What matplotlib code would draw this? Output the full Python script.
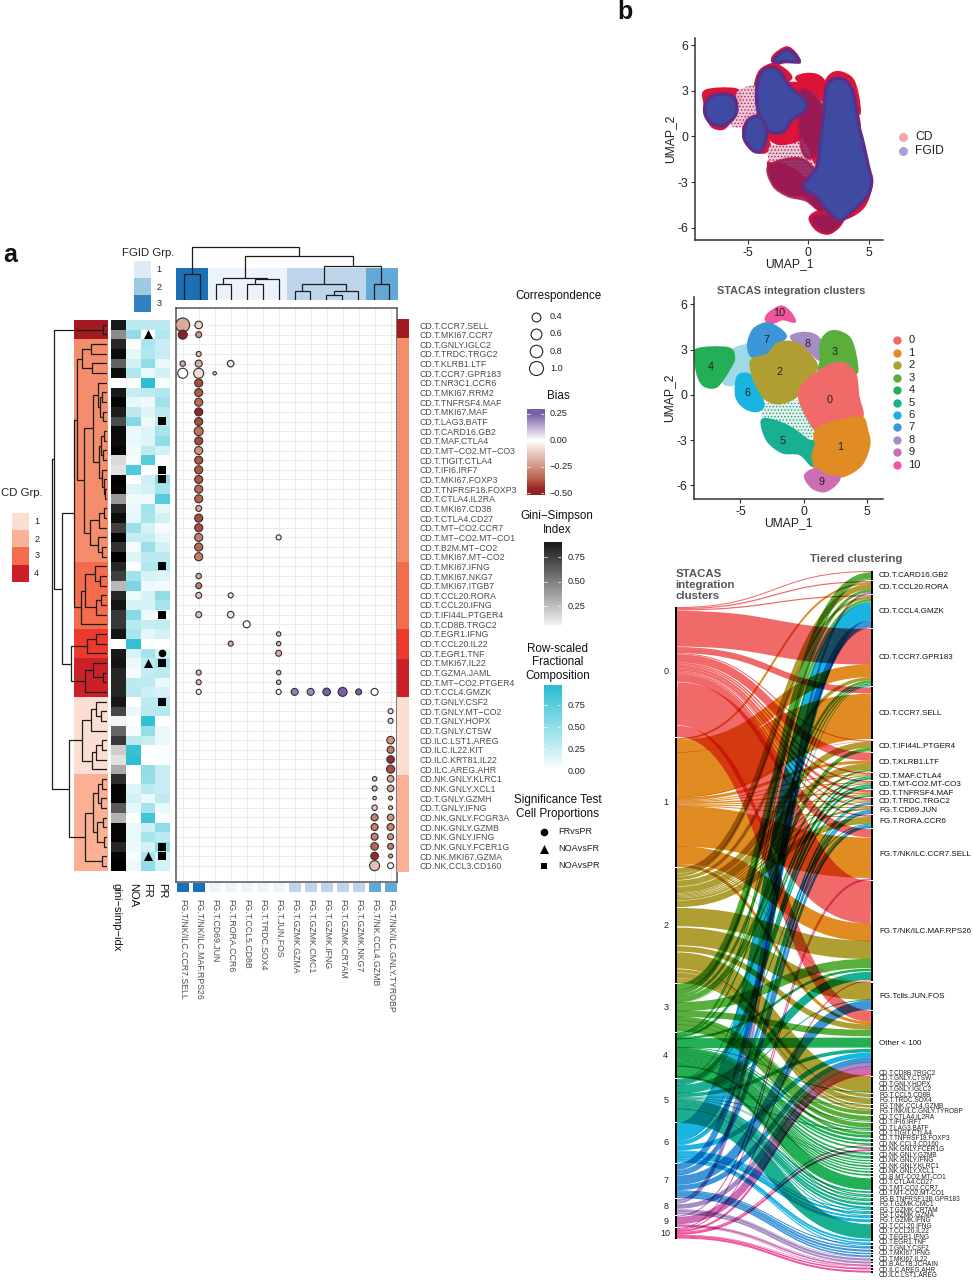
import numpy as np
import matplotlib
matplotlib.use('Agg')
import matplotlib.pyplot as plt
from matplotlib.colors import LinearSegmentedColormap, ListedColormap, to_rgb
from matplotlib.path import Path
from matplotlib.patches import PathPatch

plt.rcParams['font.family'] = ['Liberation Sans', 'DejaVu Sans']
plt.rcParams['axes.unicode_minus'] = False
plt.rcParams['hatch.linewidth'] = 0.6

# ---------- panel a data ----------
row_labels = ["CD.T.CCR7.SELL","CD.T.MKI67.CCR7","CD.T.GNLY.IGLC2","CD.T.TRDC.TRGC2","CD.T.KLRB1.LTF","CD.T.CCR7.GPR183",
 "CD.T.NR3C1.CCR6","CD.T.MKI67.RRM2","CD.T.TNFRSF4.MAF","CD.T.MKI67.MAF","CD.T.LAG3.BATF","CD.T.CARD16.GB2","CD.T.MAF.CTLA4",
 "CD.T.MT−CO2.MT−CO3","CD.T.TIGIT.CTLA4","CD.T.IFI6.IRF7","CD.T.MKI67.FOXP3","CD.T.TNFRSF18.FOXP3","CD.T.CTLA4.IL2RA",
 "CD.T.MKI67.CD38","CD.T.CTLA4.CD27","CD.T.MT−CO2.CCR7","CD.T.MT−CO2.MT−CO1","CD.T.B2M.MT−CO2","CD.T.MKI67.MT−CO2",
 "CD.T.MKI67.IFNG","CD.T.MKI67.NKG7","CD.T.MKI67.ITGB7","CD.T.CCL20.RORA","CD.T.CCL20.IFNG","CD.T.IFI44L.PTGER4","CD.T.CD8B.TRGC2",
 "CD.T.EGR1.IFNG","CD.T.CCL20.IL22","CD.T.EGR1.TNF","CD.T.MKI67.IL22","CD.T.GZMA.JAML","CD.T.MT−CO2.PTGER4","CD.T.CCL4.GMZK",
 "CD.T.GNLY.CSF2","CD.T.GNLY.MT−CO2","CD.T.GNLY.HOPX","CD.T.GNLY.CTSW","CD.ILC.LST1.AREG","CD.ILC.IL22.KIT","CD.ILC.KRT81.IL22",
 "CD.ILC.AREG.AHR","CD.NK.GNLY.KLRC1","CD.NK.GNLY.XCL1","CD.T.GNLY.GZMH","CD.T.GNLY.IFNG","CD.NK.GNLY.FCGR3A","CD.NK.GNLY.GZMB",
 "CD.NK.GNLY.IFNG","CD.NK.GNLY.FCER1G","CD.NK.MKI67.GZMA","CD.NK.CCL3.CD160"]
col_labels = ["FG.T/NK/ILC.CCR7.SELL","FG.T/NK/ILC.MAF.RPS26","FG.T.CD69.JUN","FG.T.RORA.CCR6","FG.T.CCL5.CD8B","FG.T.TRDC.SOX4",
 "FG.T.JUN.FOS","FG.T.GZMK.GZMA","FG.T.GZMK.CMC1","FG.T.GZMK.IFNG","FG.T.GZMK.CRTAM","FG.T.GZMK.NKG7","FG.T/NK.CCL4.GZMB","FG.T/NK/ILC.GNLY.TYROBP"]
col_group = [3,3,1,1,1,1,1,2,2,2,2,2,4,4]
row_group = [5,5]+[2]*23+[3]*7+[4]*3+[6]*4+[0]*8+[1]*10

dot_row = [1,2,5,6, 1,2,4,5,6,7,8,9,10,11,12,13,14,15,16,17,18,19,20,21,22,23,24,25,27,28,29,31,37,38,39,
           6, 5,29,31,34, 32, 23,33,34,35,37,38,39, 39,39,39,39,39,39,
           48,49,50,51,52,53,54,55,56,57, 41,42,44,45,46,47,48,49,50,51,52,53,54,55,56,57]
dot_col = [1,1,1,1, 2,2,2,2,2,2,2,2,2,2,2,2,2,2,2,2,2,2,2,2,2,2,2,2,2,2,2,2,2,2,2,
           3, 4,4,4,4, 5, 7,7,7,7,7,7,7, 8,9,10,11,12,13,
           13,13,13,13,13,13,13,13,13,13, 14,14,14,14,14,14,14,14,14,14,14,14,14,14,14,14]
dot_corr = [1,.41,.15,.51, .29,.18,.13,.25,.51,.33,.33,.33,.33,.33,.41,.33,.33,.33,.33,.33,.33,.33,.18,.33,.33,.33,.33,.33,.15,.18,.18,.18,.13,.13,.13,
            .06, .22,.13,.22,.13, .25, .13,.1,.1,.18,.1,.1,.13, .25,.25,.29,.41,.18,.25,
            .1,.13,.06,.15,.25,.25,.25,.29,.29,.51, .13,.13,.29,.25,.29,.33,.22,.22,.08,.08,.22,.25,.18,.18,.08,.18]
dot_bias = [-.2,-.5,-.2,0, -.1,-.25,-.15,-.2,-.08,-.4,-.38,-.35,-.48,-.4,-.33,-.4,-.25,-.38,-.38,-.38,-.35,-.36,-.2,-.4,-.4,-.3,-.35,-.3,-.2,-.3,-.15,-.15,-.15,-.15,-.03,
            -.1, -.08,-.08,-.08,-.2, 0, -.05,-.12,-.15,-.2,-.15,-.15,-.02, .2,.18,.25,.25,.25,0,
            -.12,-.15,-.1,-.12,-.3,-.3,-.3,-.35,-.45,-.15, -.1,-.1,-.25,-.3,-.45,-.4,-.2,-.2,-.15,-.15,-.25,-.3,-.25,-.3,-.2,0]

gini = [.9,.45,.85,.95,.62,.95,0,.9,.98,.88,.7,.95,.95,.98,.15,.12,.99,.98,.4,.85,.95,.75,.98,.8,1,.85,.75,.28,.85,.92,.78,.78,.92,0,.9,.92,.85,.85,.85,.9,.72,.05,.6,.78,.2,.12,.33,.82,.98,.98,.65,.3,.98,.98,.85,.98,1]
noa = [.3,.5,0,.12,.2,.35,0,.25,.12,.3,.55,.1,.1,.07,.05,.78,0,.15,.07,.1,.12,.45,.25,.05,.15,0,.42,.6,.08,.18,.55,.32,.38,.92,.18,.1,.04,.3,.32,0,.1,0,.04,.3,.9,.95,0,0,.15,.2,.12,0,.1,.1,.08,.03,.08]
fr = [.3,0,.38,.35,.5,.1,.95,.3,.08,.15,.08,.15,.15,.3,.75,.03,.22,.2,.07,.42,.38,.18,.25,.45,.3,.35,.18,.08,.18,.18,.08,.25,.12,0,.4,.3,.28,.3,.22,.3,.3,.92,.48,.25,0,0,.5,.48,.3,.1,.4,.85,.22,.4,.2,.4,.5]
pr = [.3,.35,.25,.25,.1,.2,.03,.35,.42,.3,.3,.4,.5,.2,.02,.05,.5,.4,.75,.12,.2,.04,.12,.2,.3,.35,.15,.06,.5,.4,.02,.28,.2,0,.2,.4,.3,.1,.18,.3,.33,0,.1,.1,.02,.03,.25,.25,.25,.3,.1,.03,.5,.3,.5,.2,.2]
sq_rows = [11,16,17,26,31,36,40,55,56]
tri_rows = [2,36,56]
circ_rows = [35]

left_tree = (55,
  (53,(4.3,1,2),
   (45,
    (33.7,
     (30,(25,(16.7,3,4),(15.7,5,6)),
      (23,(14,(9,7,(7,(5,8,9),(4,10,11))),(8,(6,(3,12,13),(4,14,15)),(5,16,(3,17,(2,18,19))))),
          (17,(8,(3,20,21),22),(9,23,(5,24,25))))),
     (26,(22,(12,26,(7,27,28)),(11,(6,29,30),31)),32)),
    (36,(20,(11,33,34),35),(22,(14,36,(4,37,38)),39)))),
  (38,
   (25.7,(16,(11,40,(6,41,42)),43),(15.7,(11,(5,44,45),46),47)),
   (22,(14,(9,(5,48,49),(6,50,51)),(10,(4,52,53),(3,54,55))),(5.3,56,57))))
top_tree = (53.3,(25.7,1,2),
  (44,(22.3,(15.7,3,4),(20.7,(15.7,5,6),7)),
      (34,(15.7,(9.3,8,9),(9.3,(5,10,11),12)),(15.7,13,14))))

cd_colors = ['#fcdfd2','#fbb196','#f56c4e','#cb2027']
cd_group_colors = ['#fcdfd2','#fbb096','#f38d6c','#f46b4d','#ee3a2c','#a31a20','#cb2027']
fg_colors = ['#deebf7','#9ecae1','#3182bd']
fg_col_colors = {1:'#edf3fa',2:'#bcd5ea',3:'#1b6fb5',4:'#63a9d8'}

corr_levels = [.4,.6,.8,1.0]
bias_ticks = [.25,0,-.25,-.5]
bias_tick_labels = ['0.25','0.00','−0.25','−0.50']

# ---------- panel b data ----------
cluster_colors = ['#f06a6a','#e18c23','#af9f32','#5aaf3c','#23af55','#19af91','#19b4e1','#3c96d7','#a58cc3','#cd6eb4','#f0559f']
cluster_names = [str(i) for i in range(11)]
cluster_sizes = [130,129,115,47.5,45.5,43,39.5,34.5,15.5,11.5,10.5]

poly_clusters = {
 10:[(-3.0,4.97),(-2.75,5.4),(-1.8,5.85),(-1.1,5.5),(-.7,4.85),(-1.65,5.0),(-2.5,4.75)],
 7:[(-4.25,3.87),(-3.85,4.42),(-2.9,4.75),(-1.95,4.4),(-1.4,3.87),(-1.95,3.43),(-2.9,2.66),(-4.1,2.55),(-4.4,3.2)],
 8:[(-1,3.87),(-.16,4.1),(.8,4),(1.35,3.5),(1.35,2.3),(.4,2.9),(-.57,3.43)],
 3:[(1.35,3.43),(1.9,4.1),(2.7,4.2),(3.65,3.75),(4.1,2.65),(4.2,1.45),(3.25,2),(2.15,2),(1.2,1.56),(1.35,2.3)],
 4:[(-8.47,3),(-6,3.1),(-5.5,2.45),(-5.9,1.67),(-6.85,.57),(-7.8,.57),(-8.3,1.12),(-8.55,2.1)],
 6:[(-5.2,1.23),(-4.25,1.34),(-3.7,.57),(-3.16,-.64),(-3.7,-1.08),(-4.66,-.86),(-5.34,-.09)],
 2:[(-4.1,2.33),(-2.9,2.66),(-1.95,3.43),(-.57,3.43),(.5,2.66),(1.06,1.89),(.5,1.12),(-.3,.35),(-.7,-.2),(-1.93,-.57),(-3,-.3),(-3.7,.57),(-4.1,1.45)],
 0:[(1.2,1.56),(2.15,2),(3.25,2.07),(4.1,1.34),(4.33,-.09),(4.6,-1.52),(2.7,-1.74),(1.06,-2.29),(.38,-1.63),(-.3,-.42),(-.3,.35),(.5,1.12)],
 1:[(1.06,-2.29),(2.7,-1.74),(4.6,-1.52),(5.0,-2.29),(5.2,-3.27),(4.6,-4.6),(3.24,-5.36),(1.88,-5.36),(.93,-4.92),(.52,-4.04),(.8,-3.16)],
 5:[(-3.24,-1.63),(-2.2,-1.74),(-1,-2.18),(.25,-2.95),(.8,-3.16),(.52,-4.04),(.65,-4.7),(-.3,-3.93),(-1.66,-3.82),(-2.75,-3.16),(-3.24,-2.29)],
 9:[(.1,-5.36),(.93,-4.92),(1.88,-5.36),(2.83,-5.47),(2.43,-6.02),(1.6,-6.4),(.65,-6.13)],
}
poly_link = [(-5.9,2.9),(-4.3,3.3),(-3.8,1.8),(-4.6,1.3),(-5.6,.6),(-6.4,.8),(-5.8,1.9)]
poly_gap = [(-3.16,-.64),(-1.93,-.57),(-.3,-.42),(.38,-1.63),(1.06,-2.29),(.25,-2.95),(-1,-2.18),(-2.2,-1.74),(-3.24,-1.63)]
label_xy = {0:(2.07,-.35),1:(2.86,-3.47),2:(-1.93,1.52),3:(2.43,2.86),4:(-7.33,1.85),5:(-1.63,-3.05),6:(-4.47,.13),7:(-2.94,3.65),8:(.35,3.36),9:(1.44,-5.76),10:(-1.93,5.4)}

poly_blue = [
 [(1.51,3.26),(2.34,3.81),(3.3,3.48),(3.85,2.39),(4.12,.85),(4.53,-.46),(4.95,-1.99),(5.22,-2.98),(4.81,-3.96),(3.43,-5.06),(2.61,-5.5),(1.51,-4.84),(.69,-3.96),(-.41,-3.31),(.69,-1.99),(.96,-.46),(1.24,1.29)],
 [(-4.12,3.81),(-3.43,4.47),(-2.47,4.36),(-1.51,3.26),(-.27,2.39),(-.27,1.73),(-1.37,1.07),(-2.06,.31),(-3.16,.31),(-3.98,1.29),(-4.26,2.39)],
 [(-2.88,4.91),(-2.34,5.45),(-1.65,5.67),(-.96,5.23),(-.82,4.91),(-1.79,4.91)],
 [(-4.95,1.07),(-3.98,1.29),(-3.43,.2),(-3.85,-.9),(-4.53,-.94),(-5.22,-.24),(-5.3,.31)],
 [(-8.38,2.3),(-7.55,2.75),(-6.18,2.6),(-5.95,1.51),(-6.9,.75),(-7.97,.85),(-8.52,1.51)],
]
poly_maroon = [
 [(-3.2,-1.9),(-.5,-1.5),(1.0,-3),(1.2,-4.9),(-.2,-4.2),(-1.7,-3.9),(-2.9,-3.2)],
 [(.3,-5.3),(1.9,-5.2),(2.7,-5.6),(1.7,-6.3),(.7,-6.0)],
 [(-.6,3.0),(1.2,2.0),(1.3,.4),(.3,-1.4),(-.6,-.6)],
]

tier_names = ["CD.T.CARD16.GB2","CD.T.CCL20.RORA","CD.T.CCL4.GMZK","CD.T.CCR7.GPR183","CD.T.CCR7.SELL","CD.T.IFI44L.PTGER4","CD.T.KLRB1.LTF",
 "CD.T.MAF.CTLA4","CD.T.MT-CO2.MT-CO3","CD.T.TNFRSF4.MAF","CD.T.TRDC.TRGC2","FG.T.CD69.JUN","FG.T.RORA.CCR6","FG.T/NK/ILC.CCR7.SELL",
 "FG.T/NK/ILC.MAF.RPS26","FG.Tclls.JUN.FOS","Other < 100"]
tier_small = ["CD.T.CD8B.TRGC2","CD.T.GNLY.CTSW","CD.T.GNLY.HOPX","CD.T.GNLY.IGLC2","FG.T.CCL5.CD8B","FG.T.TRDC.SOX4","FG.T/NK.CCL4.GZMB",
 "FG.T/NK/ILC.GNLY.TYROBP","CD.T.CTLA4.IL2RA","CD.T.IFI6.IRF7","CD.T.LAG3.BATF","CD.T.TIGIT.CTLA4","CD.T.TNFRSF18.FOXP3","CD.NK.CCL3.CD160",
 "CD.NK.GNLY.FCER1G","CD.NK.GNLY.GZMB","CD.NK.GNLY.IFNG","CD.NK.GNLY.KLRC1","CD.NK.GNLY.XCL1","CD.B.MT-CO2.MT-CO1","CD.T.CTLA4.CD27",
 "CD.T.MT-CO2.CCR7","CD.T.MT-CO2.MT-CO1","FG.B.TNFRSF13B.GPR183","FG.T.GZMK.CMC1","FG.T.GZMK.CRTAM","FG.T.GZMK.GZMA","FG.T.GZMK.IFNG",
 "CD.T.CCL20.IFNG","CD.T.CCL20.IL22","CD.T.EGR1.IFNG","CD.T.EGR1.TNF","CD.T.GNLY.CSF2","CD.T.MKI67.IFNG","CD.T.MKI67.IL22","CD.B.ACTB.JCHAIN",
 "CD.ILC.AREG.AHR","CD.ILC.LST1.AREG"]
tier_flows = [
 {0:1,3:7,4:1},{0:1.2,1:2,2:5,3:3,8:1.8},{0:1.2,2:2.5,3:2.5,4:1,6:18,7:6,8:1.8},{0:35,1:13,2:3,3:3,4:1.5,5:1,6:.5},{0:6,1:46},
 {0:1,1:.5,2:5.5,3:4},{0:8,1:3,2:6,3:2},{0:1.5,1:1,2:1,4:1.5,5:2},{0:1.5,1:1,2:1,4:2,5:2.5},{0:2.5,1:1.5,2:1,3:.5,5:1.5},
 {0:2.5,1:1,2:1,6:1.5,7:1},{0:1,1:1,2:2,6:2,7:2},{0:1.5,1:1,2:6,5:1,6:1,7:2.5},{0:8,1:41,9:1,10:1},
 {0:42,1:18,2:17,3:10,4:3,5:9,10:1},{1:.5,2:16.5,5:1,7:9},{0:11,1:3,2:5,3:7,4:12,5:4,6:5,7:5,8:4,9:7,10:2},
 {2:15,4:1},{2:3,5:.5},{2:5,5:.5},{2:2,3:.5},{2:2,3:4},{3:5,4:1},{3:5,4:2,5:1},{3:3,4:3},{4:3},{4:2,10:1},{4:2,10:2},{4:2,5:.5},{4:2.5,5:.5},
 {4:1.5},{4:1.5},{4:2},{4:1.5},{4:2},{4:2},{4:14,5:2},{4:1.5,5:1.5},{4:1,5:2},{4:.5,5:2.5},{5:2.5,6:1},{5:1,6:2},{5:1,6:2},{6:3},{5:16,6:2},
 {6:1.5,7:1},{6:1,7:1.5},{7:2},{7:1.5},{7:1.5,8:.5},{8:2},{8:1.5,9:.3},{9:1.5,10:.5},{9:.5,10:1.5},{10:2},
]

# ---------- helpers ----------
W, H = 973, 1280
fig = plt.figure(figsize=(W/100, H/100), dpi=100, facecolor='white')

def axpx(x0, y0, x1, y1, **kw):
    return fig.add_axes([x0/W, 1-y1/H, (x1-x0)/W, (y1-y0)/H], **kw)

bg = axpx(0, 0, W, H, zorder=10)
bg.set_xlim(0, W); bg.set_ylim(H, 0); bg.axis('off'); bg.patch.set_visible(False)

def txt(x, y, s, size=7, color='#111111', ha='left', va='center', **kw):
    bg.text(x, y, s, fontsize=size, color=color, ha=ha, va=va, **kw)

def draw_tree(ax, node, orient, **st):
    if isinstance(node, int):
        return node-1, 0
    h, a, b = node
    pa, ha_ = draw_tree(ax, a, orient, **st)
    pb, hb_ = draw_tree(ax, b, orient, **st)
    hs = [ha_, h, h, hb_]; ps = [pa, pa, pb, pb]
    if orient == 'left':
        ax.plot(hs, ps, **st)
    else:
        ax.plot(ps, hs, **st)
    return (pa+pb)/2, h

def blob(ax, pts, **kw):
    """closed outline through the read points, drawn with cubic path segments"""
    P = np.array(pts, float); n = len(P)
    verts = [P[0]]; codes = [Path.MOVETO]
    for i in range(n):
        p0, p1, p2, p3 = P[i-1], P[i], P[(i+1) % n], P[(i+2) % n]
        verts += [p1+(p2-p0)/6, p2-(p3-p1)/6, p2]
        codes += [Path.CURVE4]*3
    ax.add_patch(PathPatch(Path(verts, codes), **kw))

comp_cmap = LinearSegmentedColormap.from_list('comp', ['#ffffff', '#22bbd0'])
gini_cmap = LinearSegmentedColormap.from_list('gini', ['#ffffff', '#000000'])
vmin_b, vmax_b = -.52, .30
def bp(v): return (v-vmin_b)/(vmax_b-vmin_b)
bias_cmap = LinearSegmentedColormap.from_list('bias', [(0,'#8b1a1f'),(bp(-.45),'#9c2b28'),(bp(-.375),'#b85a45'),(bp(-.25),'#d39485'),(bp(0),'#ffffff'),(bp(.25),'#7a5fa8'),(1,'#7a5fa8')])
tree_style = dict(color='#1c1c1c', lw=0.9, solid_capstyle='butt', solid_joinstyle='miter')

# ---------- panel a ----------
n_rows, n_cols = len(row_labels), len(col_labels)
ax = axpx(176, 308.3, 397.3, 881.7)
ax.set_xlim(-.42, n_cols-1+.42); ax.set_ylim(n_rows-1+1.66, -1.73)
ax.set_xticks(range(n_cols)); ax.set_yticks(range(n_rows))
ax.set_xticklabels(col_labels, rotation=270, ha='center', va='top')
ax.set_yticklabels(row_labels)
ax.yaxis.tick_right()
ax.tick_params(axis='both', length=0, labelsize=6.3, labelcolor='#4d4d4d')
ax.tick_params(axis='x', pad=12.5); ax.tick_params(axis='y', pad=15.8)
ax.grid(True, color='#ebebeb', lw=0.7); ax.set_axisbelow(True)
for sp in ax.spines.values():
    sp.set_color('#555555'); sp.set_linewidth(1.1)
ax.scatter(np.array(dot_col)-1, np.array(dot_row)-1, s=101.6*np.array(dot_corr), c=dot_bias, cmap=bias_cmap,
           vmin=vmin_b, vmax=vmax_b, edgecolors='#303030', linewidths=0.8, zorder=3)

# right strip
axr = axpx(397.3, 318.7, 409.3, 871.7); axr.axis('off')
gcm = ListedColormap(cd_group_colors)
axr.imshow(np.array(row_group)[:, None], aspect='auto', cmap=gcm, vmin=-.5, vmax=6.5, interpolation='nearest')
# left strip
axl = axpx(73.7, 320, 107.3, 870.7); axl.axis('off')
axl.imshow(np.array(row_group)[:, None], aspect='auto', cmap=gcm, vmin=-.5, vmax=6.5, interpolation='nearest')
# left dendrogram
axd = axpx(45, 320, 107.3, 870.7); axd.axis('off')
axd.set_xlim(62.3, 0); axd.set_ylim(n_rows-.5, -.5)
draw_tree(axd, left_tree, 'left', **tree_style)
axd.set_xlim(62.3, 0); axd.set_ylim(n_rows-.5, -.5)
# heat
axg = axpx(111, 320, 126, 870.7); axg.axis('off')
axg.imshow(np.array(gini)[:, None], aspect='auto', cmap=gini_cmap, vmin=0, vmax=1, interpolation='nearest')
axh = axpx(126, 320, 169.3, 870.7); axh.axis('off')
axh.imshow(np.column_stack([noa, fr, pr]), aspect='auto', cmap=comp_cmap, vmin=0, vmax=1, interpolation='nearest')
axh.scatter([2]*len(sq_rows), np.array(sq_rows)-1, marker='s', s=26, c='k', linewidths=0, zorder=3)
axh.scatter([1]*len(tri_rows), np.array(tri_rows)-1, marker='^', s=42, c='k', linewidths=0, zorder=3)
axh.scatter([2]*len(circ_rows), np.array(circ_rows)-1, marker='o', s=30, c='k', linewidths=0, zorder=3)
axh.set_xlim(-.5, 2.5); axh.set_ylim(n_rows-.5, -.5)
for x, s in zip([116.7, 132.7, 147, 161.7], ['gini−simp−idx', 'NOA', 'FR', 'PR']):
    txt(x, 882.7, s, size=8, rotation=270, ha='center', va='top')

# top strip + tree
axt = axpx(176, 268, 397.3, 300); axt.axis('off')
top_cols = [to_rgb(fg_col_colors[g]) for g in col_group]
axt.imshow(np.array(top_cols)[None, :, :], aspect='auto', interpolation='nearest')
axtd = axpx(176, 240, 397.3, 300); axtd.axis('off'); axtd.patch.set_visible(False)
draw_tree(axtd, top_tree, 'top', **tree_style)
axtd.set_xlim(-.5, n_cols-.5); axtd.set_ylim(0, 60)
# bottom strip
axb = axpx(176, 882.7, 397.3, 892.3); axb.axis('off')
axb.bar(range(n_cols), [1]*n_cols, width=.76, color=[fg_col_colors[g] for g in col_group])
axb.set_xlim(-.42, n_cols-1+.42); axb.set_ylim(0, 1)

# group legends
txt(122, 252.7, 'FGID Grp.', size=8.2, color='#222222')
axf = axpx(134, 261, 151, 312); axf.axis('off')
axf.imshow(np.arange(3)[:, None], aspect='auto', cmap=ListedColormap(fg_colors), interpolation='nearest')
for i, y in enumerate([270, 287, 304]):
    txt(159, y, str(i+1), size=6.5, ha='center', color='#222222')
txt(1, 493, 'CD Grp.', size=8.2, color='#222222')
axc = axpx(12, 513, 29, 581.7); axc.axis('off')
axc.imshow(np.arange(4)[:, None], aspect='auto', cmap=ListedColormap(cd_colors), interpolation='nearest')
for i, y in enumerate([522, 539, 556, 574]):
    txt(36.7, y, str(i+1), size=6.5, ha='center', color='#222222')

# right legends
txt(558.3, 295.7, 'Correspondence', size=8.4, ha='center')
for c, y in zip(corr_levels, [316.7, 333.7, 351, 368.3]):
    bg.scatter([535.7], [y], s=101.6*c, facecolors='white', edgecolors='#222222', linewidths=0.8)
    txt(550, y, f'{c:.1f}', size=6.6, color='#222222')
txt(558, 396.3, 'Bias', size=8.4, ha='center')

def colorbar(x0, y0, x1, y1, vlo, vhi, cmap, cmin, cmax, ticks, labels, lx):
    a = axpx(x0, y0, x1, y1)
    a.imshow(np.linspace(vhi, vlo, 256)[:, None], aspect='auto', cmap=cmap, vmin=cmin, vmax=cmax, extent=(0, 1, vlo, vhi))
    a.axis('off')
    for t in ticks:
        a.plot([0, .2], [t, t], color='white', lw=.5); a.plot([.8, 1], [t, t], color='white', lw=.5)
    a.set_xlim(0, 1); a.set_ylim(vlo, vhi)
    py = y1-(np.array(ticks)-vlo)/(vhi-vlo)*(y1-y0)
    for y, s in zip(py, labels):
        txt(lx, y, s, size=6.6, color='#222222')

colorbar(526.7, 408.7, 544, 495, -.516, .30, bias_cmap, vmin_b, vmax_b, bias_ticks, bias_tick_labels, 550)
txt(556.7, 515.7, 'Gini−Simpson', size=8.4, ha='center')
txt(556.7, 530, 'Index', size=8.4, ha='center')
colorbar(543.7, 542, 561, 625, .055, .907, gini_cmap, 0, 1, [.75, .5, .25], ['0.75', '0.50', '0.25'], 568)
for y, s in zip([649, 662.3, 675.7], ['Row-scaled', 'Fractional', 'Composition']):
    txt(557.3, y, s, size=8.4, ha='center')
colorbar(543.7, 685, 561, 767.3, .045, .977, comp_cmap, 0, 1, [.75, .5, .25], ['0.75', '0.50', '0.25'], 568)
txt(568, 771, '0.00', size=6.6, color='#222222')
txt(558, 800, 'Significance Test', size=8.4, ha='center')
txt(558, 814, 'Cell Proportions', size=8.4, ha='center')
for m, y, s, lab in zip(['o', '^', 's'], [831.7, 848.7, 866], [30, 42, 24], ['FRvsPR', 'NOAvsFR', 'NOAvsPR']):
    bg.scatter([544], [y], marker=m, s=s, c='k', linewidths=0)
    txt(558.3, y, lab, size=6.6, color='#222222')

txt(3, 255, 'a', size=18, weight='bold', color='#111111')
txt(617, 12, 'b', size=18, weight='bold', color='#111111')

# ---------- UMAPs ----------
def umap_axes(x0, y0, x1, y1, xlim, ylim):
    a = axpx(x0, y0, x1, y1)
    a.set_xlim(*xlim); a.set_ylim(*ylim)
    for s in ['top', 'right']:
        a.spines[s].set_visible(False)
    for s in ['left', 'bottom']:
        a.spines[s].set_color('#333333'); a.spines[s].set_linewidth(1.1)
    a.set_xticks([-5, 0, 5]); a.set_xticklabels(['-5', '0', '5'])
    a.set_yticks([-6, -3, 0, 3, 6]); a.set_yticklabels(['-6', '-3', '0', '3', '6'])
    a.tick_params(length=3, width=.8, labelsize=8.7, pad=2, color='#333333', labelcolor='#222222')
    a.set_xlabel('UMAP_1', fontsize=8.7, labelpad=-.5, color='#222222')
    a.set_ylabel('UMAP_2', fontsize=8.7, labelpad=1, color='#222222')
    return a

# upper UMAP
u1 = umap_axes(695, 37.7, 883.3, 240, (-9.34, 6.18), (-6.81, 6.48))
for k, p in poly_clusters.items():
    blob(u1, p, fc='#dc1438', ec='#dc1438', lw=1.5)
blob(u1, poly_link, fc='#f0c0cf', ec='none', alpha=.9)
blob(u1, poly_link, fc='none', ec='#a02a70', hatch='.....', lw=0)
blob(u1, poly_gap, fc='#eec6d2', ec='none')
blob(u1, poly_gap, fc='none', ec='#8b2a6a', hatch='.....', lw=0)
for p in poly_maroon:
    blob(u1, p, fc='#8f1a58', ec='#a81a50', lw=2, alpha=.85)
for p in poly_blue:
    blob(u1, p, fc='#3f4aa3', ec='#5a3088', lw=2.5)
for y, c, s in zip([136.7, 150.7], ['#f7a7a7', '#a7a0d0'], ['CD', 'FGID']):
    bg.scatter([902.7], [y], s=42, c=c, linewidths=0)
    txt(915, y, s, size=8.7, color='#222222')

# lower UMAP
u2 = umap_axes(694, 296.7, 883.3, 499, (-8.67, 6.3), (-6.9, 6.5))
blob(u2, poly_link, fc='#7fcbe0', ec='none', alpha=.75)
blob(u2, poly_gap, fc='#e4f0e8', ec='none')
blob(u2, poly_gap, fc='none', ec='#19a585', hatch='.....', lw=0)
for k, p in poly_clusters.items():
    blob(u2, p, fc=cluster_colors[k], ec=cluster_colors[k], lw=1.5)
for k, (x, y) in label_xy.items():
    u2.text(x, y, str(k), fontsize=7.8, ha='center', va='center', color='#222222')
txt(790.7, 291.3, 'STACAS integration clusters', size=7.8, weight='bold', ha='center', color='#555555')
for i, c in enumerate(cluster_colors):
    y = 340.3+i*12.44
    bg.scatter([896.7], [y], s=36, c=c, linewidths=0)
    txt(908.3, y, cluster_names[i], size=8, color='#222222')

# ---------- alluvial: stroked links, multiplied onto what is below ----------
def multiply(img, dpi):
    a = img[..., 3].copy()
    a[-40:, :40] = 0; a[:40, -40:] = 0
    base = np.array(fig.canvas.get_renderer().buffer_rgba())
    m = a > 0
    if base.shape[:2] == img.shape[:2]:
        factor = 1-a[m][:, None]*(1-img[..., :3][m])
        base[..., :3][m] = np.clip(base[..., :3][m]*factor+.5, 0, 255).astype(np.uint8)
    return base, 0, 0

axa = axpx(677, 560, 871, 1280); axa.axis('off'); axa.patch.set_visible(False)
axa.set_xlim(0, 1); axa.set_ylim(720, 0)
inv = axa.transData.inverted()
corners = inv.transform([(.5, .5), (2.5, .5), (2.5, 2.5), (.5, 2.5), (W-2.5, H-2.5), (W-.5, H-2.5), (W-.5, H-.5), (W-2.5, H-.5)])

sizes = [sum(f.values()) for f in tier_flows]
r_gap = 1.1
r_top = 11.0
left_top = []
cursor = 47.0
for s in cluster_sizes:
    left_top.append(cursor); cursor += s+1.0
cluster_sum = [sum(f.get(c, 0) for f in tier_flows) for c in range(11)]
l_cursor = list(left_top)
node_tops = []
cm = .5
for f, s in zip(tier_flows, sizes):
    node_tops.append(r_top)
    yr = r_top
    for c in sorted(f):
        h = f[c]
        hl = h*cluster_sizes[c]/cluster_sum[c]
        yl = l_cursor[c]+hl/2
        l_cursor[c] += hl
        yc = yr+h/2
        verts = [(0, yl), (cm, yl), (cm, yc), (1, yc)]
        codes = [Path.MOVETO, Path.CURVE4, Path.CURVE4, Path.CURVE4]
        for i in (0, 4):
            sq = corners[i:i+4]
            verts += [tuple(sq[0]), tuple(sq[1]), tuple(sq[2]), tuple(sq[3]), tuple(sq[0])]
            codes += [Path.MOVETO, Path.LINETO, Path.LINETO, Path.LINETO, Path.CLOSEPOLY]
        patch = PathPatch(Path(verts, codes), fc='none', ec=cluster_colors[c], lw=max((h+hl)/2, .5)*.72,
                          clip_on=False, zorder=2, capstyle='butt', joinstyle='round')
        patch.set_agg_filter(multiply)
        axa.add_patch(patch)
        yr += h
    r_top += s+r_gap

# node bars
axn = axpx(670, 560, 880, 1280); axn.axis('off'); axn.patch.set_visible(False)
axn.set_xlim(670, 880); axn.set_ylim(720, 0)
axn.bar([676]*11, cluster_sizes, bottom=left_top, width=2, color='black', align='center')
axn.bar([872]*len(sizes), sizes, bottom=node_tops, width=2, color='black', align='center')

for i, s in enumerate(cluster_names):
    txt(665.7, 560+left_top[i]+cluster_sizes[i]/2, s, size=6.5, ha='center', color='#222222')
for i, s in enumerate(tier_names):
    txt(879, 560+node_tops[i]+sizes[i]/2, s, size=5.75, color='#111111')
for i, s in enumerate(tier_small):
    txt(879, 1073.3+i*5.47, s, size=4.7, color='#222222')
txt(855.7, 559.3, 'Tiered clustering', size=8.2, weight='bold', ha='center', color='#555555')
for y, s in zip([574, 585, 596], ['STACAS', 'integration', 'clusters']):
    txt(675.3, y, s, size=8.2, weight='bold', color='#555555')

fig.savefig('out.png', dpi=100, facecolor='white')
